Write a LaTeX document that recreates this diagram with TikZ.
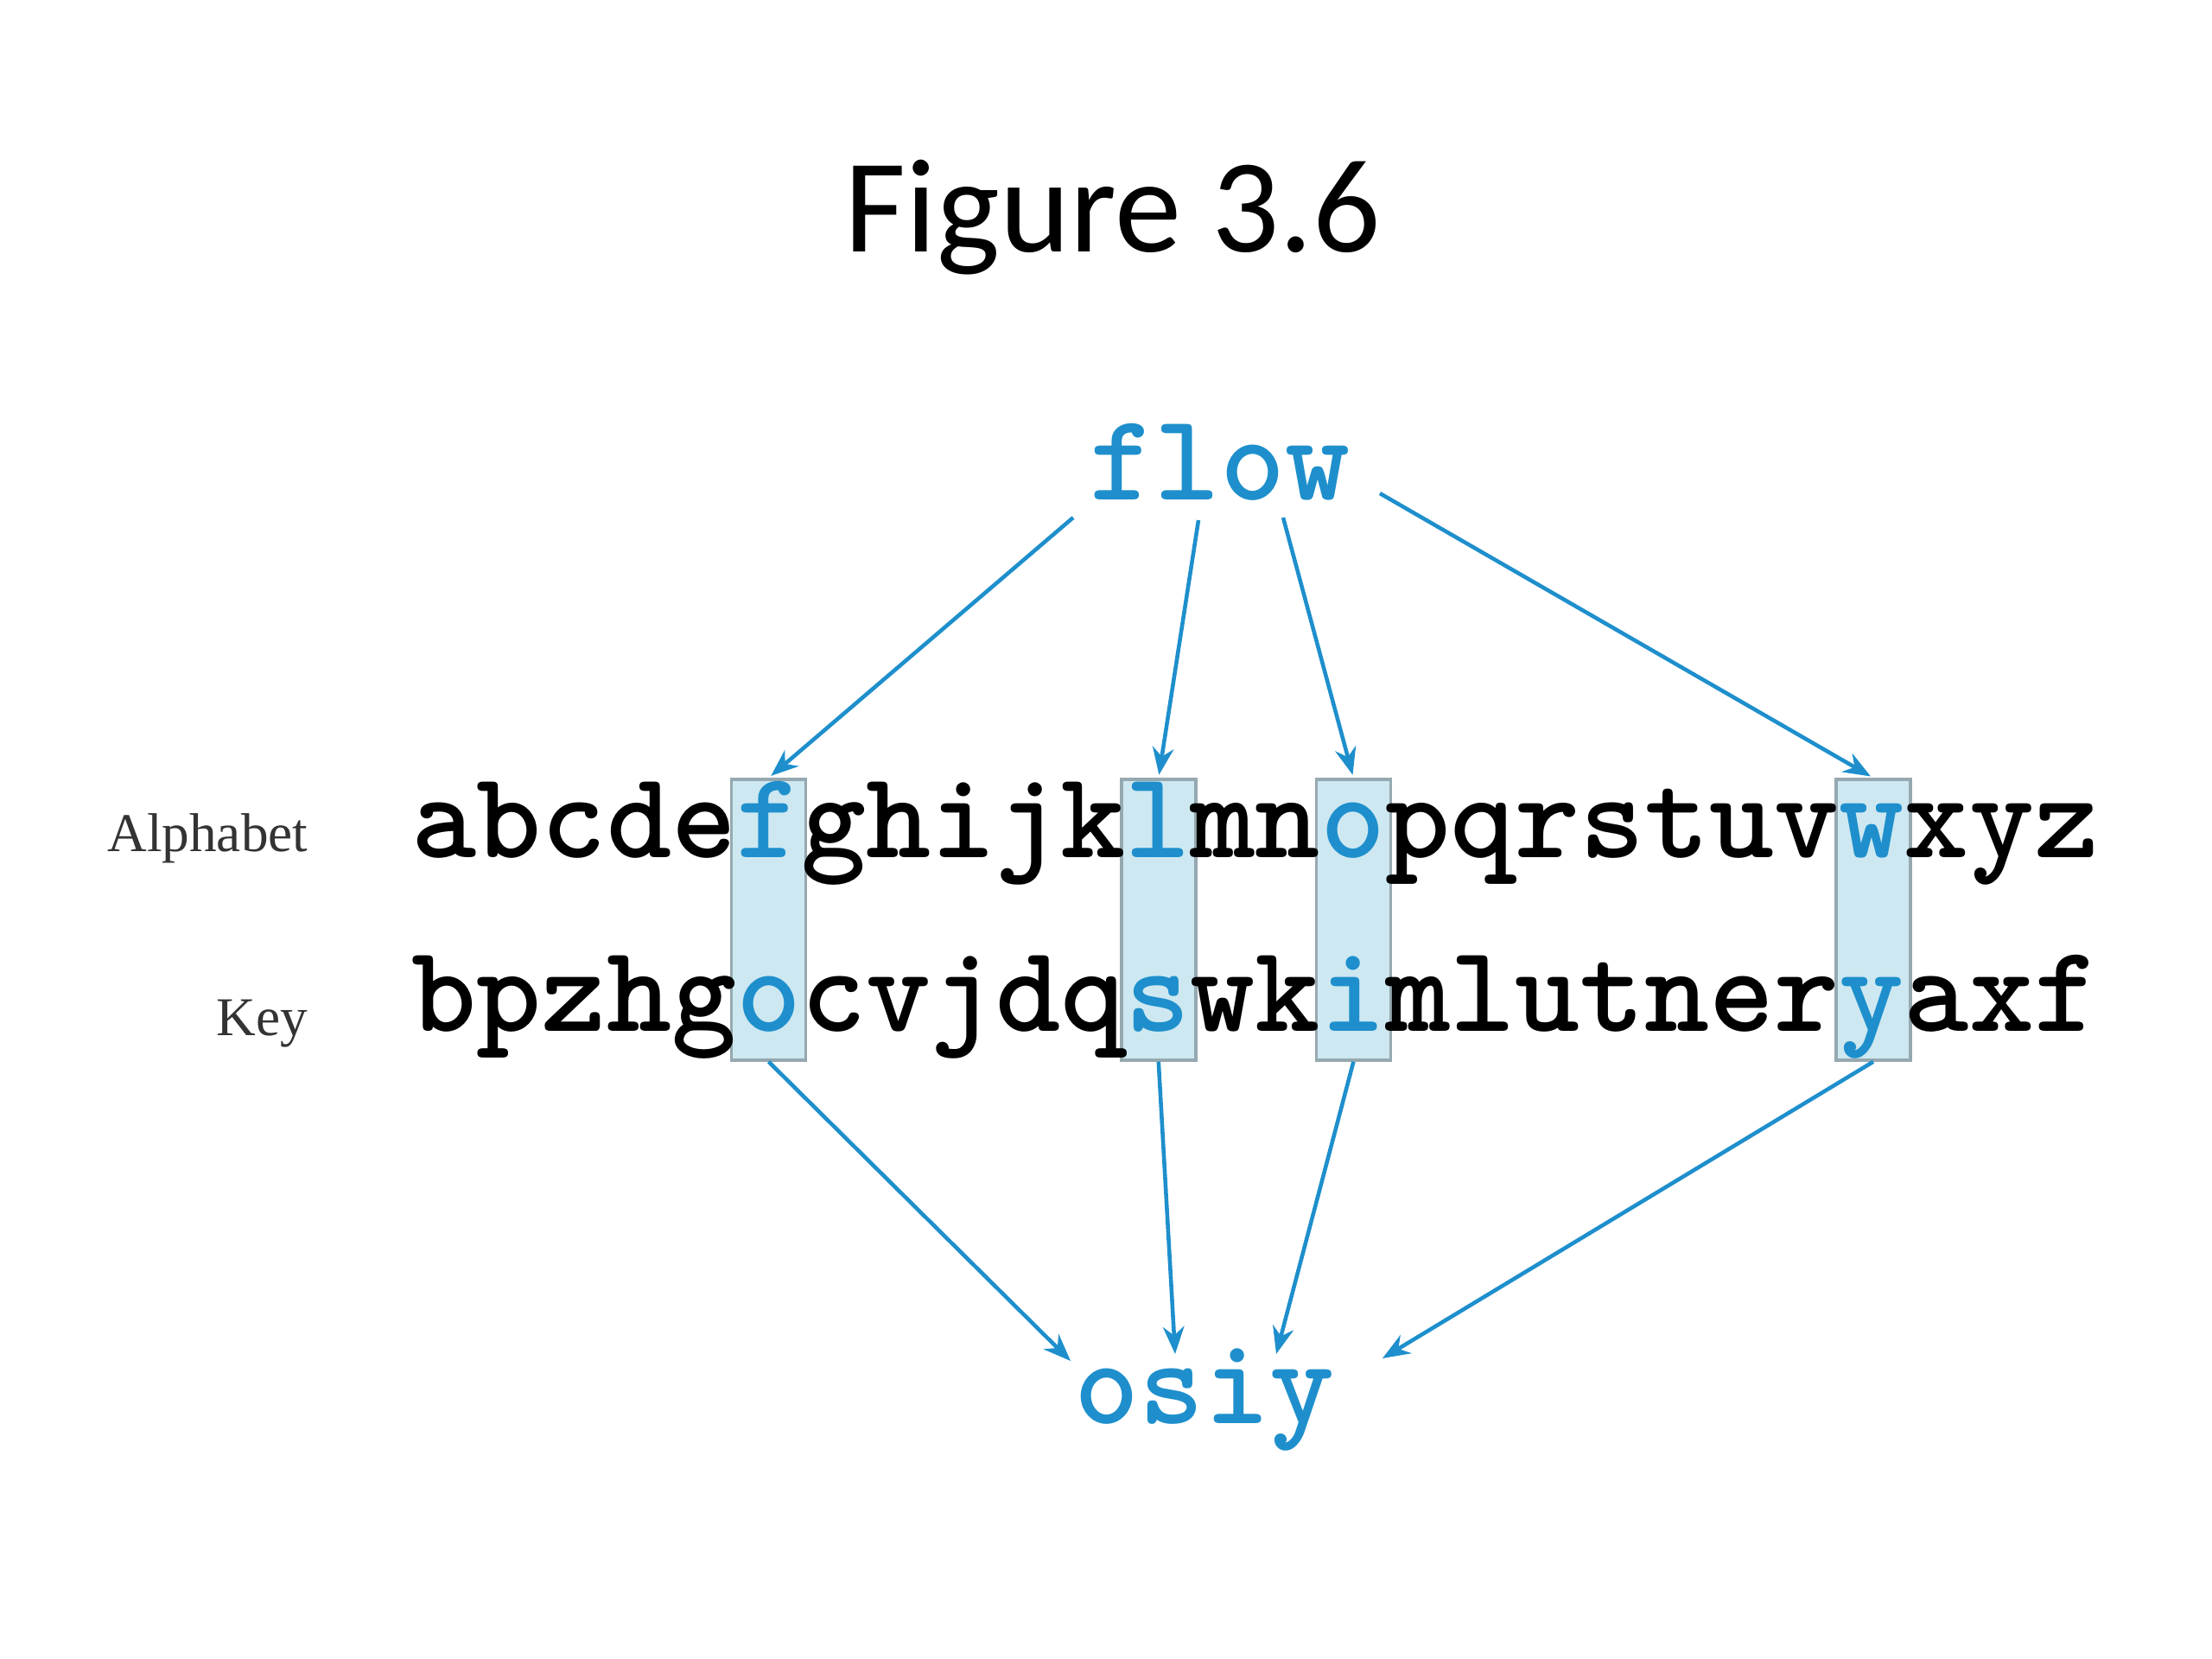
\documentclass[tikz,border=0pt]{standalone}
\usepackage{fontspec}
\setmainfont{Liberation Serif}
\newfontfamily\titlefont{Carlito}
\usepackage{xcolor}
\usetikzlibrary{arrows,arrows.meta,calc}
\definecolor{cipherblue}{RGB}{30,143,204}
\definecolor{boxfill}{RGB}{205,232,241}
\definecolor{boxedge}{RGB}{150,168,176}
\newcommand{\hl}[1]{\textcolor{cipherblue}{#1}}

\begin{document}
\begin{tikzpicture}[>={Stealth[length=9pt,width=7pt]}]
    \tikzstyle{cipher} = [inner sep=0pt,font=\ttfamily\bfseries\fontsize{40.7}{44}\selectfont]
    \tikzstyle{keybox} = [draw=boxedge,fill=boxfill,line width=1pt,minimum width=0.86cm,minimum height=3.25cm,inner sep=0pt]
    \tikzstyle{rowlabel} = [inner sep=0pt,anchor=base east,text=black!80,font=\fontsize{18}{20}\selectfont]
    \useasboundingbox (0,0) rectangle (25.6,-19.2);
    \node[anchor=base,inner sep=0pt,font=\titlefont\fontsize{44}{50}\selectfont] (title) at (12.88,-2.92) {Figure 3.6};
    % highlighted columns
    \foreach \i/\c in {5/f,11/l,14/o,22/w}
    {
      \node[keybox] (box-\c) at ({4.76+0.752*(\i+.5)},-10.645) {};
    }
    \node[rowlabel] (alphalabel) at (3.57,-9.85) {Alphabet};
    \node[rowlabel] (keylabel) at (3.57,-11.98) {Key};
    \node[cipher,anchor=base west] (alpha) at (4.76,-9.92) {abcde\hl{f}ghijk\hl{l}mn\hl{o}pqrstuv\hl{w}xyz};
    \node[cipher,anchor=base west] (key) at (4.76,-11.93) {bpzhg\hl{o}cvjdq\hl{s}wk\hl{i}mlutner\hl{y}axf};
    \node[cipher,anchor=base,text=cipherblue] (plain) at (14.12,-5.78) {flow};
    \node[cipher,anchor=base,text=cipherblue] (secret) at (13.94,-16.47) {osiy};
    % arrow ends
    \coordinate (p1) at (12.42,-5.99);
    \coordinate (p2) at (13.87,-6.02);
    \coordinate (p3) at (14.85,-5.99);
    \coordinate (p4) at (15.97,-5.71);
    \coordinate (s1) at (12.39,-15.75);
    \coordinate (s2) at (13.60,-15.67);
    \coordinate (s3) at (14.77,-15.67);
    \coordinate (s4) at (16.00,-15.72);
    \begin{scope}[->,line width=1.3pt,draw=cipherblue]
      \draw[shorten >=1pt] (p1) -- (box-f.north);
      \draw[shorten >=1pt] (p2) -- (box-l.north);
      \draw[shorten >=1pt] (p3) -- (box-o.north);
      \draw[shorten >=1pt] (p4) -- (box-w.north);
      \draw (box-f.south) -- (s1);
      \draw (box-l.south) -- (s2);
      \draw (box-o.south) -- (s3);
      \draw (box-w.south) -- (s4);
    \end{scope}
\end{tikzpicture}
\end{document}
